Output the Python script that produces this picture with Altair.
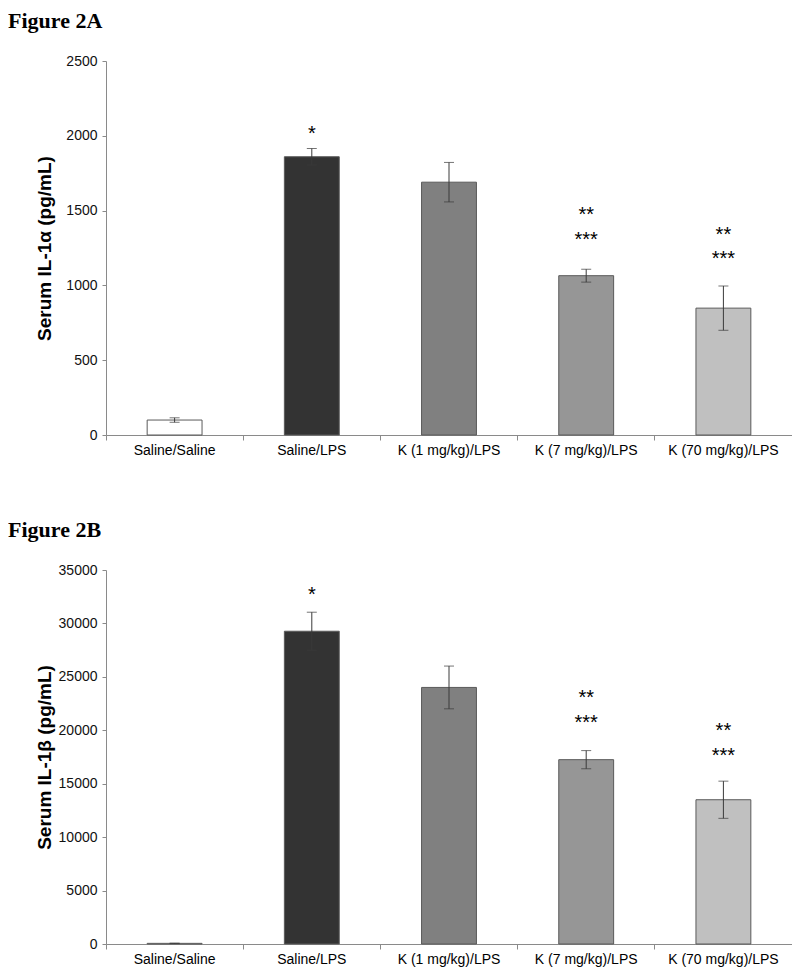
import altair as alt
import pandas as pd

# ---- data ----
categories = ["Saline/Saline", "Saline/LPS", "K (1 mg/kg)/LPS", "K (7 mg/kg)/LPS", "K (70 mg/kg)/LPS"]

il1a_mean = [100, 1860, 1690, 1065, 848]
il1a_err = [15, 55, 132, 43, 148]

il1b_mean = [60, 29270, 24010, 17250, 13500]
il1b_err = [20, 1780, 2000, 850, 1740]

# significance marks (label, category, vertical position in data units)
star_labels = ["*", "**", "***", "**", "***"]
star_cats = ["Saline/LPS", "K (7 mg/kg)/LPS", "K (7 mg/kg)/LPS", "K (70 mg/kg)/LPS", "K (70 mg/kg)/LPS"]
a_star_y = [2044, 1501, 1338, 1372, 1207]
b_star_y = [33130, 23510, 21140, 20420, 18020]

bar_colors = ["#ffffff", "#333333", "#808080", "#969696", "#c0c0c0"]

W = 686
H = 374
P_INNER = 0.6
P_OUTER = 0.3
# put x ticks on the category boundaries (fraction of bandwidth before band start)
TICK_POS = -P_OUTER / (1 - P_INNER)


def panel(title, means, errs, star_y, ymax, ystep, ytitle):
    df = pd.DataFrame({
        "cat": categories,
        "mean": means,
        "lo": [m - e for m, e in zip(means, errs)],
        "hi": [m + e for m, e in zip(means, errs)],
    })
    sdf = pd.DataFrame({"cat": star_cats, "label": star_labels, "pos": star_y})

    xscale = alt.Scale(domain=categories, paddingInner=P_INNER, paddingOuter=P_OUTER)
    x_axis = alt.Axis(
        title=None, labelAngle=0, bandPosition=TICK_POS,
        ticks=True, tickSize=5, tickColor="#8a8a8a", domainColor="#8a8a8a",
        labelFont="Liberation Sans", labelFontSize=14, labelColor="#000000",
        labelPadding=3,
    )
    y_axis = alt.Axis(
        values=list(range(0, ymax + 1, ystep)), format="d", grid=False,
        title=ytitle, titleFont="Liberation Sans", titleFontSize=19,
        titleFontWeight="bold", titleColor="#000000", titleAngle=-90,
        titleX=-62, titleY=H / 2, titleAlign="center", titleBaseline="middle",
        labelFont="Liberation Sans", labelFontSize=14, labelColor="#111111",
        labelPadding=5, tickSize=4, tickColor="#8a8a8a", domainColor="#8a8a8a",
    )
    yscale = alt.Scale(domain=[0, ymax], nice=False)

    base = alt.Chart(df)
    bars = base.mark_bar(stroke="#5a5a5a", strokeWidth=1).encode(
        x=alt.X("cat:N", sort=categories, scale=xscale, axis=x_axis),
        y=alt.Y("mean:Q", scale=yscale, axis=y_axis),
        color=alt.Color("cat:N", scale=alt.Scale(domain=categories, range=bar_colors), legend=None),
    )
    rule = base.mark_rule(color="#3a3a3a", strokeWidth=1).encode(
        x=alt.X("cat:N", sort=categories),
        y=alt.Y("lo:Q"),
        y2="hi:Q",
    )
    cap_lo = base.mark_tick(color="#3a3a3a", size=10, thickness=1).encode(
        x=alt.X("cat:N", sort=categories), y=alt.Y("lo:Q"))
    cap_hi = base.mark_tick(color="#3a3a3a", size=10, thickness=1).encode(
        x=alt.X("cat:N", sort=categories), y=alt.Y("hi:Q"))
    stars = alt.Chart(sdf).mark_text(
        font="Liberation Sans", fontSize=20, baseline="alphabetic", dy=11, color="#000000"
    ).encode(
        x=alt.X("cat:N", sort=categories),
        y=alt.Y("pos:Q"),
        text="label:N",
    )
    return alt.layer(bars, rule, cap_lo, cap_hi, stars).properties(
        width=W, height=H,
        title=alt.TitleParams(
            title, anchor="start", frame="bounds", font="Liberation Serif",
            fontSize=22, fontWeight="bold", color="#000000", dx=-27, offset=21,
        ),
    )


pa = panel("Figure 2A", il1a_mean, il1a_err, a_star_y, 2500, 500, "Serum IL-1α (pg/mL)")
pb = panel("Figure 2B", il1b_mean, il1b_err, b_star_y, 35000, 5000, "Serum IL-1β (pg/mL)")

chart = alt.vconcat(pa, pb, spacing=62).properties(
    padding={"left": 0, "top": 2, "right": 0, "bottom": 6},
).configure(background="white", view=alt.ViewConfig(stroke=None))

chart.save("out.html", embed_options={"renderer": "svg", "actions": False})
